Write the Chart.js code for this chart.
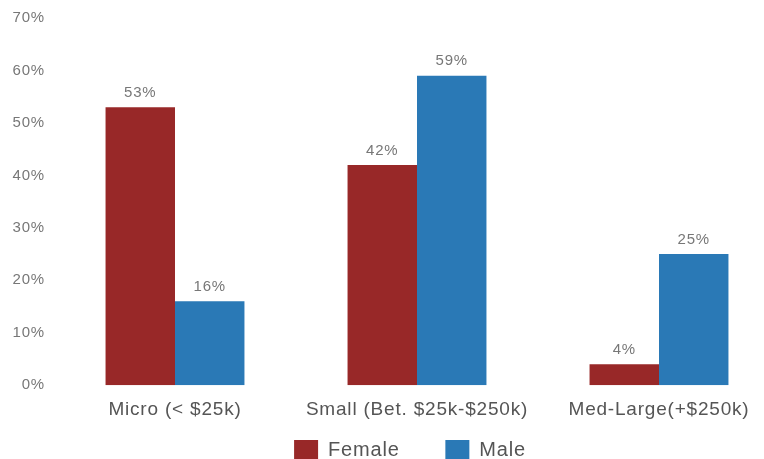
<!DOCTYPE html>
<html>
<head>
<meta charset="utf-8">
<script src="https://cdn.jsdelivr.net/npm/chart.js@4"></script>
<style>
  html, body { margin: 0; padding: 0; background: #fff; overflow: hidden; }
  #wrap { width: 830px; height: 470px; }
</style>
</head>
<body>
<div id="wrap"><canvas id="chart"></canvas></div>
<script>
const categories = ["Micro (< $25k)", "Small (Bet. $25k-$250k)", "Med-Large(+$250k)"];
const female = [53, 42, 4];
const male = [16, 59, 25];
const yTicks = [0, 10, 20, 30, 40, 50, 60, 70];

const FONT = "'Liberation Sans', Arial, sans-serif";

// a little tracking on all canvas text (lost whenever the canvas resizes)
const tracking = {
  id: "tracking",
  beforeUpdate(chart) { chart.ctx.letterSpacing = "0.8px"; },
  beforeDraw(chart) { chart.ctx.letterSpacing = "0.8px"; },
};

// nudge the legend so it sits under the middle of the plot
const legendShift = {
  id: "legendShift",
  afterLayout(chart) {
    chart.legend.left += 20;
    chart.legend.right += 20;
  },
};

// writes the percentage above each bar
const barValues = {
  id: "barValues",
  afterDatasetsDraw(chart) {
    const ctx = chart.ctx;
    ctx.save();
    ctx.font = "15px " + FONT;
    ctx.fillStyle = "#777";
    ctx.textAlign = "center";
    ctx.textBaseline = "bottom";
    chart.data.datasets.forEach((ds, i) => {
      chart.getDatasetMeta(i).data.forEach((bar, j) => {
        ctx.fillText(ds.data[j] + "%", bar.x, bar.y - 7);
      });
    });
    ctx.restore();
  },
};

new Chart(document.getElementById("chart"), {
  type: "bar",
  data: {
    labels: categories,
    datasets: [
      { label: "Female", data: female, backgroundColor: "#982828" },
      { label: "Male", data: male, backgroundColor: "#2A79B6" },
    ],
  },
  plugins: [tracking, legendShift, barValues],
  options: {
    responsive: true,
    maintainAspectRatio: false,
    animation: false,
    layout: { padding: { top: 18, right: 50, left: 0, bottom: 0 } },
    datasets: {
      bar: { categoryPercentage: 0.574, barPercentage: 1 },
    },
    plugins: {
      tooltip: { enabled: false },
      legend: {
        position: "bottom",
        labels: {
          boxWidth: 24,
          boxHeight: 20,
          padding: 14,
          color: "#555",
          font: { family: FONT, size: 20 },
          // wider gap between the two entries
          generateLabels(chart) {
            const items = Chart.defaults.plugins.legend.labels.generateLabels(chart);
            items[0].text += "     ";
            return items;
          },
        },
      },
    },
    scales: {
      x: {
        grid: { display: false },
        border: { display: false },
        ticks: { color: "#555", font: { family: FONT, size: 19 }, padding: 5 },
      },
      y: {
        min: 0,
        max: 70,
        afterFit(scale) { scale.width = 54; },
        afterBuildTicks(scale) { scale.ticks = yTicks.map((v) => ({ value: v })); },
        grid: { display: false, drawTicks: false },
        border: { display: false },
        ticks: {
          color: "#777",
          padding: 9,
          font: { family: FONT, size: 15 },
          callback: (v) => v + "%",
        },
      },
    },
  },
});
</script>
</body>
</html>
